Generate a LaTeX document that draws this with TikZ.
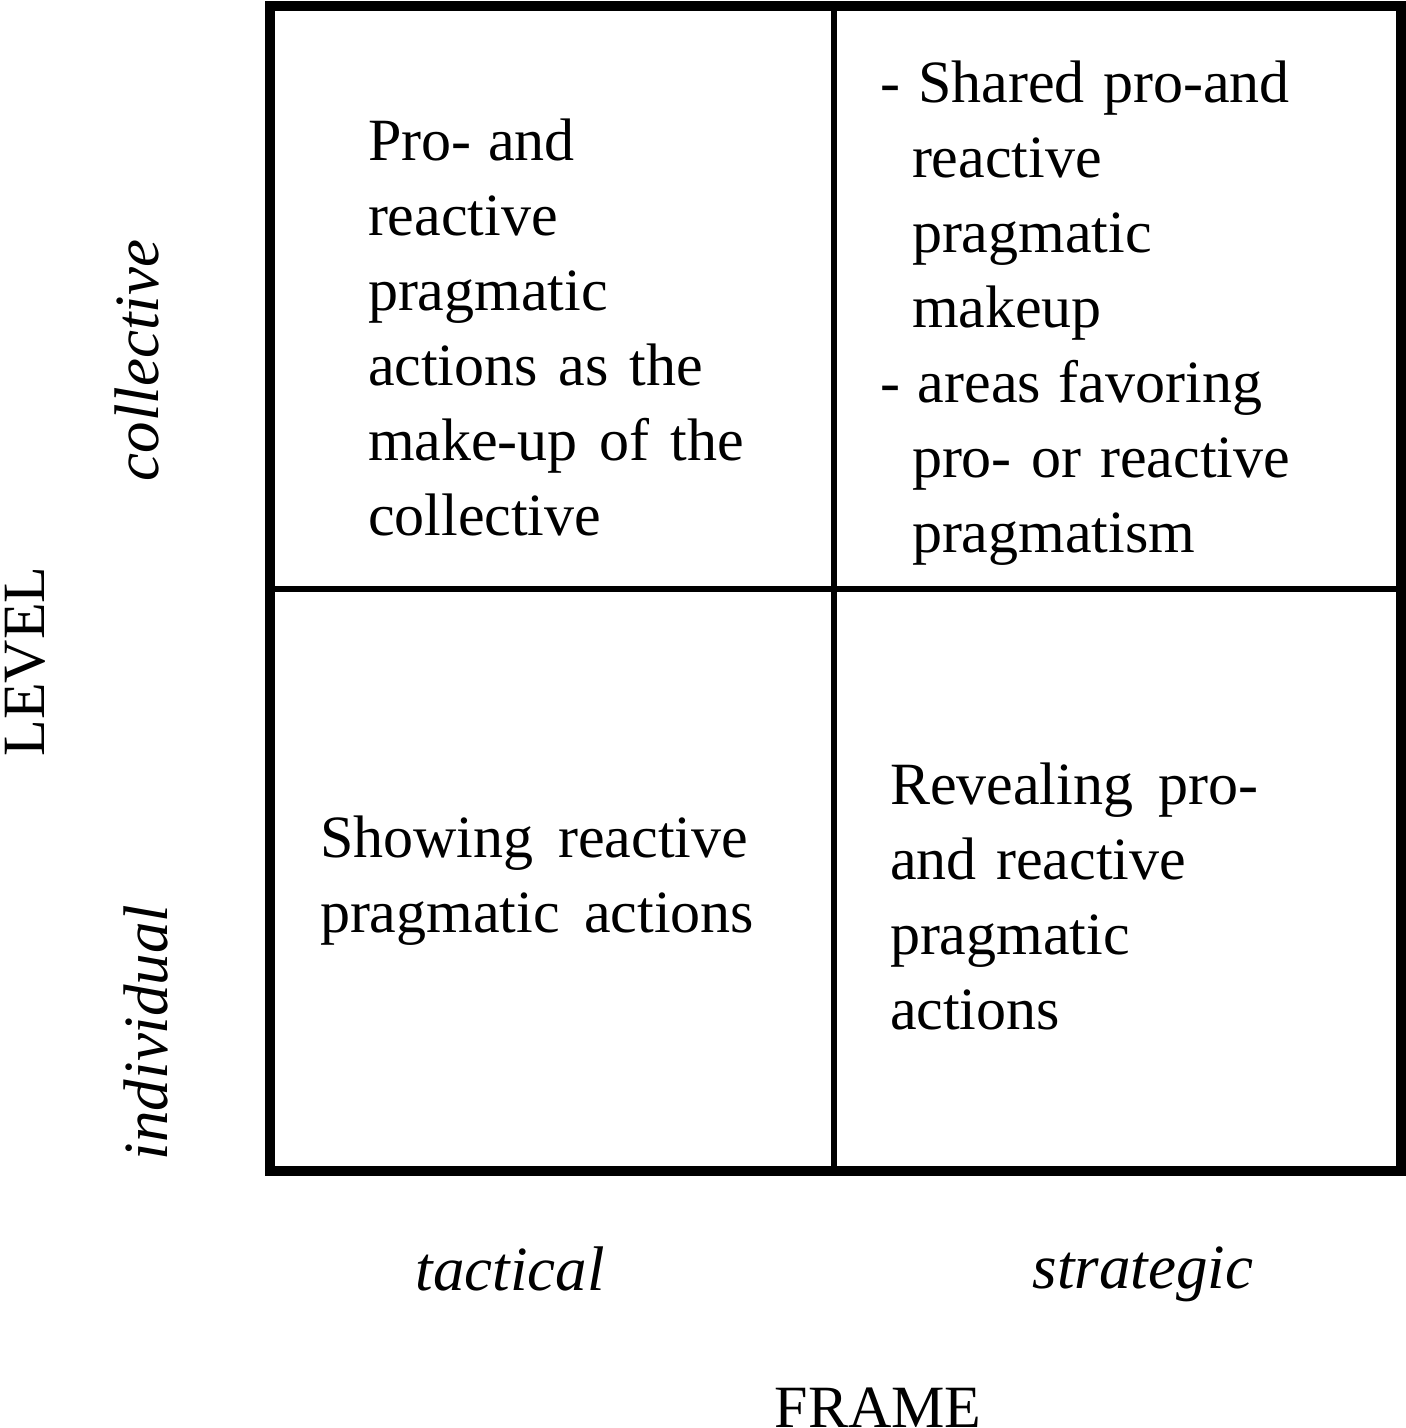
\documentclass[tikz,border=0pt]{standalone}
\usepackage{fontspec}
\setmainfont{Liberation Serif}
\begin{document}
\begin{tikzpicture}[x=1pt,y=-1pt,
  txt/.style={inner sep=0pt,outer sep=0pt,anchor=base west,font=\fontsize{60}{75}\selectfont},
  lab/.style={inner sep=0pt,outer sep=0pt,font=\fontsize{63}{75}\selectfont\itshape},
  axis/.style={inner sep=0pt,outer sep=0pt,font=\fontsize{60}{75}\selectfont}]
\useasboundingbox (0,0) rectangle (1406,1428);
% grid
\coordinate (NW) at (270,5.5);
\coordinate (SE) at (1401,1171);
\coordinate (MT) at (833.5,5.5);
\coordinate (MB) at (833.5,1171);
\coordinate (ML) at (270,589);
\coordinate (MR) at (1401,589);
\draw[line width=6pt] (MT) -- (MB);
\draw[line width=6pt] (ML) -- (MR);
\draw[line width=10pt] (NW) rectangle (SE);
% top-left cell
\node[txt] (tl1) at (368,160) {\makebox[207pt][s]{Pro- and}};
\node[txt] (tl2) at (368,235) {reactive};
\node[txt] (tl3) at (368,310) {pragmatic};
\node[txt] (tl4) at (368,385) {\makebox[335pt][s]{actions as the}};
\node[txt] (tl5) at (368,460) {\makebox[376pt][s]{make-up of the}};
\node[txt] (tl6) at (368,535) {collective};
% top-right cell
\node[txt] (tr1) at (880,102) {\makebox[410pt][s]{- Shared pro-and}};
\node[txt] (tr2) at (912,177) {reactive};
\node[txt] (tr3) at (912,252) {pragmatic};
\node[txt] (tr4) at (912,327) {makeup};
\node[txt] (tr5) at (880,402) {\makebox[382pt][s]{- areas favoring}};
\node[txt] (tr6) at (912,477) {\makebox[378pt][s]{pro- or reactive}};
\node[txt] (tr7) at (912,552) {pragmatism};
% bottom-left cell
\node[txt] (bl1) at (320,857) {\makebox[428pt][s]{Showing reactive}};
\node[txt] (bl2) at (320,932) {\makebox[434pt][s]{pragmatic actions}};
% bottom-right cell
\node[txt] (br1) at (890,804) {\makebox[368pt][s]{Revealing pro-}};
\node[txt] (br2) at (890,879) {\makebox[296pt][s]{and reactive}};
\node[txt] (br3) at (890,954) {pragmatic};
\node[txt] (br4) at (890,1029) {actions};
% axis labels
\node[lab,rotate=90,anchor=base west] (coll) at (158,481) {collective};
\node[lab,rotate=90,anchor=base west] (indiv) at (167,1160) {individual};
\node[axis,rotate=90,anchor=base] (level) at (45,661.5) {LEVEL};
\node[lab,anchor=base] (tact) at (510,1290) {tactical};
\node[lab,anchor=base] (strat) at (1143,1288) {strategic};
\node[axis,anchor=base] (frame) at (878,1427) {FRAME};
\end{tikzpicture}
\end{document}
